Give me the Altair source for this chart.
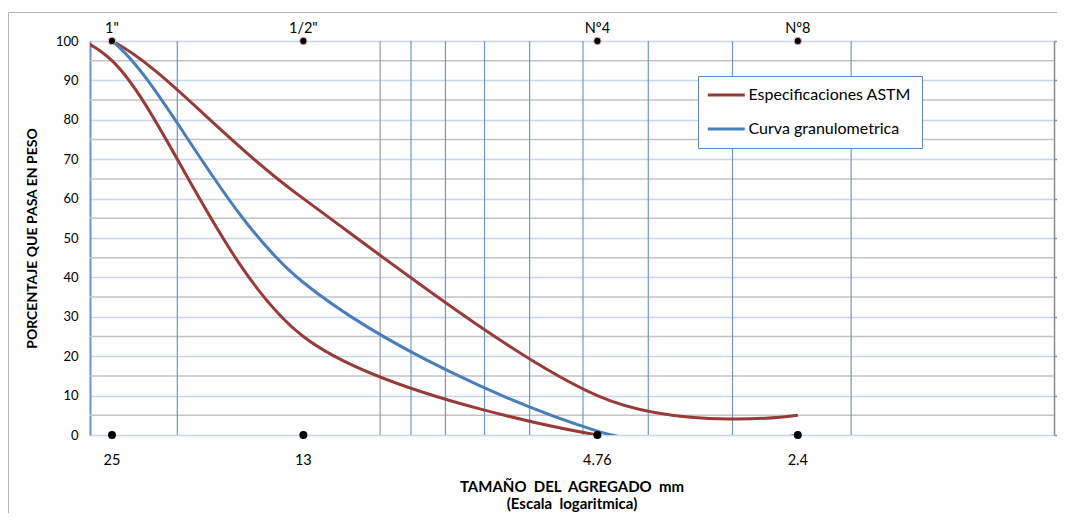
import altair as alt
import pandas as pd

FONT = "Lato"

# ---- data (sieve size in mm, % passing) ----
upper_size = [37.5, 25, 13, 4.76, 2.4]
upper_pct = [100, 100, 60, 10, 5]

lower_size = [37.5, 25, 13, 4.76]
lower_pct = [100, 95, 25, 0]

blue_size = [37.5, 25, 13, 4.76, 2.4]
blue_pct = [100, 100, 38.7, 1, 0]

sieve_sizes = [25, 13, 4.76, 2.4]
sieve_names = ['1"', '1/2"', 'Nº4', 'Nº8']
sieve_labels = ["25", "13", "4.76", "2.4"]

vgrid_blue = [20, 9, 8, 7, 6, 5, 4, 3, 2]
vgrid_grey = [10]
hgrid_grey = [5, 15, 25, 35, 45, 55, 65, 75, 85, 95]
y_ticks = [0, 10, 20, 30, 40, 50, 60, 70, 80, 90, 100]

SERIES = ["Especificaciones ASTM", "Curva granulometrica"]
Y_TITLE = "PORCENTAJE QUE PASA EN PESO"
X_TITLE_1 = "TAMAÑO\u00a0 DEL\u00a0 AGREGADO\u00a0 mm"
X_TITLE_2 = "(Escala\u00a0 logaritmica)"
RED = "#983b38"
BLUE = "#4a7ebb"

rows = []
for s, p in zip(upper_size, upper_pct):
    rows.append({"size": s, "pct": p, "serie": SERIES[0], "curva": "sup"})
for s, p in zip(lower_size, lower_pct):
    rows.append({"size": s, "pct": p, "serie": SERIES[0], "curva": "inf"})
red_df = pd.DataFrame(rows)
blue_df = pd.DataFrame({"size": blue_size, "pct": blue_pct, "serie": SERIES[1], "curva": "gran"})

sieves_df = pd.DataFrame({"size": sieve_sizes, "name": sieve_names, "label": sieve_labels,
                          "top": [100] * 4, "bottom": [0] * 4})
one = pd.DataFrame({"a": [0]})

xscale = alt.Scale(type="log", domain=[1.0, 26.95], reverse=True, nice=False)
yscale = alt.Scale(domain=[0, 100], nice=False)

# frame of the chart area
frame = alt.Chart(one).mark_rect(
    fill=None, stroke="#b5b5b5", strokeWidth=1
).encode(x=alt.value(-81.5), x2=alt.value(990), y=alt.value(-28.5), y2=alt.value(500))

left = alt.Chart(pd.DataFrame({"size": [5], "pct": [50]})).mark_point(opacity=0).encode(
    x=alt.X("size:Q", scale=xscale, axis=None),
    y=alt.Y("pct:Q", scale=yscale, axis=alt.Axis(
        values=y_ticks, grid=True, gridColor="#c6d6ee", gridWidth=1.5,
        domain=True, domainColor="#6a93cc", domainWidth=2, ticks=False,
        labelFont=FONT, labelFontSize=13, labelColor="black", labelPadding=12,
        title=Y_TITLE, titleFont=FONT, titleFontSize=14,
        titleFontWeight="bold", titleColor="black", titleAngle=270,
        titleX=-58, titleY=197, titleAlign="center", titleBaseline="middle")),
)

right = alt.Chart(pd.DataFrame({"size": [5], "pct": [50]})).mark_point(opacity=0).encode(
    x=alt.X("size:Q", scale=xscale, axis=None),
    y=alt.Y("pct:Q", scale=yscale, axis=alt.Axis(
        orient="right", values=y_ticks, grid=False, labels=False, title=None,
        domain=True, domainColor="#8c8c8c", domainWidth=1.5,
        ticks=True, tickSize=5, tickColor="#8c8c8c", tickWidth=1.5)),
)

xtitle1 = alt.Chart(one).mark_text(font=FONT, fontSize=15, fontWeight="bold", color="black",
                                   align="center", baseline="alphabetic").encode(
    x=alt.value(482), y=alt.value(451), text=alt.value(X_TITLE_1))
xtitle2 = alt.Chart(one).mark_text(font=FONT, fontSize=15, fontWeight="bold", color="black",
                                   align="center", baseline="alphabetic").encode(
    x=alt.value(482), y=alt.value(468), text=alt.value(X_TITLE_2))

hgrid = alt.Chart(pd.DataFrame({"pct": hgrid_grey})).mark_rule(color="#c3c3c3", strokeWidth=1.5).encode(
    y=alt.Y("pct:Q", scale=yscale, axis=None))

vgrid_b = alt.Chart(pd.DataFrame({"size": vgrid_blue})).mark_rule(color="#6f97cf", strokeWidth=1.2).encode(
    x=alt.X("size:Q", scale=xscale, axis=None))
vgrid_g = alt.Chart(pd.DataFrame({"size": vgrid_grey})).mark_rule(color="#9a9a9a", strokeWidth=1.2).encode(
    x=alt.X("size:Q", scale=xscale, axis=None))

color_enc = alt.Color(
    "serie:N", scale=alt.Scale(domain=SERIES, range=[RED, BLUE]),
    legend=alt.Legend(orient="none", legendX=608, legendY=35, title=None,
                      symbolType="M-3,0H3", symbolSize=152, symbolStrokeWidth=3,
                      symbolOffset=9.3, labelOffset=14.2, labelLimit=400,
                      labelFont=FONT, labelFontSize=16, labelColor="black",
                      rowPadding=18, padding=11,
                      strokeColor="#5b88c8", fillColor="white"))

red_lines = alt.Chart(red_df).mark_line(strokeWidth=3, interpolate="cardinal", clip=True).encode(
    x=alt.X("size:Q", scale=xscale, axis=None),
    y=alt.Y("pct:Q", scale=yscale, axis=None),
    color=color_enc, detail="curva:N", order=alt.Order("size:Q"),
)
blue_line = alt.Chart(blue_df).mark_line(strokeWidth=3, interpolate="cardinal", clip=True).encode(
    x=alt.X("size:Q", scale=xscale, axis=None),
    y=alt.Y("pct:Q", scale=yscale, axis=None),
    color=color_enc, detail="curva:N", order=alt.Order("size:Q"),
)

dots_top = alt.Chart(sieves_df).mark_circle(size=55, color="black", opacity=1,
                                            stroke="#e8b0ad", strokeWidth=1).encode(
    x=alt.X("size:Q", scale=xscale, axis=None), y=alt.Y("top:Q", scale=yscale, axis=None))
dots_bot = alt.Chart(sieves_df).mark_circle(size=64, color="black", opacity=1).encode(
    x=alt.X("size:Q", scale=xscale, axis=None), y=alt.Y("bottom:Q", scale=yscale, axis=None))

names = alt.Chart(sieves_df).mark_text(dy=-12, font=FONT, fontSize=14.5, color="black").encode(
    x=alt.X("size:Q", scale=xscale, axis=None), y=alt.Y("top:Q", scale=yscale, axis=None),
    text="name:N")
labels = alt.Chart(sieves_df).mark_text(dy=26, font=FONT, fontSize=14.5, color="black").encode(
    x=alt.X("size:Q", scale=xscale, axis=None), y=alt.Y("bottom:Q", scale=yscale, axis=None),
    text="label:N")

chart = alt.layer(
    frame, left, hgrid, vgrid_b, vgrid_g, right, red_lines, blue_line,
    dots_top, dots_bot, names, labels, xtitle1, xtitle2
).resolve_axis(y="independent").properties(
    width=964, height=394,
    padding={"left": 82, "top": 33, "right": 3, "bottom": 78},
    autosize=alt.AutoSizeParams(type="none"),
    background="white",
).configure_view(stroke=None)

chart.save("out.html", embed_options={"renderer": "svg", "actions": False})
